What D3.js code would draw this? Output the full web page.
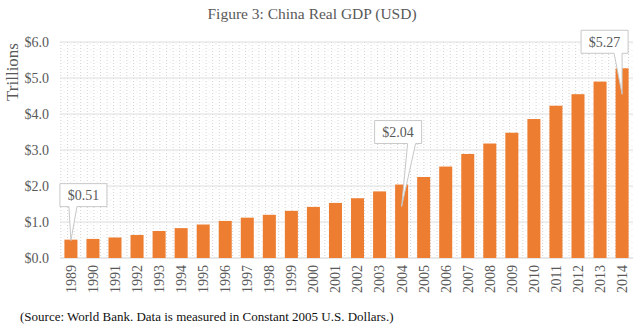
<!DOCTYPE html>
<html>
<head>
<meta charset="utf-8">
<script src="https://cdn.jsdelivr.net/npm/d3@7"></script>
<style>
  body { margin: 0; background: #fff; }
  svg text { font-family: "Liberation Serif", "Times New Roman", serif; }
</style>
</head>
<body>
<div id="chart"></div>
<script>
// China real GDP, trillions of constant 2005 USD
const years = d3.range(1989, 2015).map(String);
const gdp = [0.51, 0.53, 0.57, 0.64, 0.75, 0.83, 0.93, 1.03, 1.12, 1.20, 1.31, 1.42,
             1.53, 1.66, 1.85, 2.04, 2.25, 2.54, 2.89, 3.18, 3.48, 3.86, 4.23, 4.55, 4.90, 5.27];
const yTicks = [0, 1, 2, 3, 4, 5, 6];
// years that get a value callout
const callouts = ["1989", "2004", "2014"];

const width = 640, height = 328;
const margin = { top: 42, right: 7, bottom: 70, left: 60 };

const svg = d3.select("#chart").append("svg")
    .attr("width", width)
    .attr("height", height);

// dotted fill for the plot area
const defs = svg.append("defs");
const pat = defs.append("pattern")
    .attr("id", "dots")
    .attr("patternUnits", "userSpaceOnUse")
    .attr("width", 6.6)
    .attr("height", 6);
pat.append("rect").attr("x", 1).attr("y", 0).attr("width", 1).attr("height", 1).attr("fill", "#cfcfcf");
pat.append("rect").attr("x", 1).attr("y", 3).attr("width", 1).attr("height", 1).attr("fill", "#cfcfcf");
pat.append("rect").attr("x", 4.3).attr("y", 1.5).attr("width", 1).attr("height", 1).attr("fill", "#e2e2e2");

let x = d3.scaleBand()
    .domain(years)
    .range([margin.left, width - margin.right])
    .paddingInner(0.41)
    .paddingOuter(0.2);

let y = d3.scaleLinear()
    .domain([0, 6])
    .range([height - margin.bottom, margin.top]);

svg.append("rect")
    .attr("x", margin.left)
    .attr("y", margin.top)
    .attr("width", width - margin.right - margin.left)
    .attr("height", y(0) - margin.top)
    .attr("fill", "url(#dots)");

// gridlines
svg.append("g")
    .selectAll("line")
    .data(yTicks)
    .enter()
    .append("line")
    .attr("x1", margin.left)
    .attr("x2", width - margin.right)
    .attr("y1", d => y(d))
    .attr("y2", d => y(d))
    .attr("stroke", d => d === 0 ? "#d0d0d0" : "#dedede")
    .attr("stroke-width", 1);

// y axis labels
let yAxis = svg.append("g")
    .attr("transform", "translate(" + margin.left + ",0)")
    .call(d3.axisLeft(y).tickValues(yTicks).tickFormat(d => "$" + d3.format(".1f")(d)).tickSize(0).tickPadding(11));
yAxis.select(".domain").remove();
yAxis.selectAll("text")
    .style("font-size", "14px")
    .style("font-family", "Liberation Serif, serif")
    .attr("fill", "#595959");

// x axis labels
let xAxis = svg.append("g")
    .attr("transform", "translate(0," + y(0) + ")")
    .call(d3.axisBottom(x).tickSize(0));
xAxis.select(".domain").remove();
xAxis.selectAll("text")
    .style("font-size", "14px")
    .style("font-family", "Liberation Serif, serif")
    .attr("fill", "#595959")
    .attr("transform", "rotate(-90)")
    .attr("text-anchor", "end")
    .attr("dy", "0.35em")
    .attr("x", -7)
    .attr("y", 0);

// bars
svg.append("g")
    .selectAll("rect")
    .data(gdp)
    .enter()
    .append("rect")
    .attr("x", (d, i) => x(years[i]))
    .attr("y", d => y(d))
    .attr("width", x.bandwidth())
    .attr("height", d => y(0) - y(d))
    .attr("fill", "#ED7D31");

// value callouts: box above the bar with a wedge pointing into it
const boxW = 47, boxH = 23;
const boxShift = { "1989": [-11, -56], "2004": [-27, -64], "2014": [-41, -38] };
const tipDrop = { "1989": 1, "2004": 22, "2014": 26 };

callouts.forEach(yr => {
    let i = years.indexOf(yr);
    let v = gdp[i];
    let cx = x(yr) + x.bandwidth() / 2;
    let bx = cx + boxShift[yr][0];
    let by = y(v) + boxShift[yr][1];
    let tipX = cx;
    let tipY = y(v) + tipDrop[yr];
    // wedge base on the box bottom
    let baseX = yr === "1989" ? bx + 9 : bx + boxW - 14;
    let g = svg.append("g");

    g.append("path")
        .attr("d", "M" + bx + "," + by + "H" + (bx + boxW) + "V" + (by + boxH) +
            "H" + (baseX + 8) + "L" + tipX + "," + tipY + "L" + baseX + "," + (by + boxH) +
            "H" + bx + "Z")
        .attr("fill", "#fff")
        .attr("stroke", "#c8c8c8")
        .attr("stroke-width", 1);

    g.append("text")
        .attr("x", bx + boxW / 2)
        .attr("y", by + boxH / 2)
        .attr("dy", "0.35em")
        .attr("text-anchor", "middle")
        .style("font-size", "14px")
        .attr("fill", "#595959")
        .text("$" + d3.format(".2f")(v));
});

// axis title
svg.append("text")
    .attr("transform", "translate(18,72) rotate(-90)")
    .attr("text-anchor", "middle")
    .style("font-size", "17px")
    .attr("fill", "#595959")
    .text("Trillions");

// chart title
svg.append("text")
    .attr("x", 312)
    .attr("y", 19)
    .attr("text-anchor", "middle")
    .style("font-size", "15.5px")
    .attr("fill", "#595959")
    .text("Figure 3: China Real GDP (USD)");

// source note
svg.append("text")
    .attr("x", 20)
    .attr("y", 321)
    .style("font-size", "13px")
    .attr("fill", "#111")
    .text("(Source: World Bank. Data is measured in Constant 2005 U.S. Dollars.)");
</script>
</body>
</html>
